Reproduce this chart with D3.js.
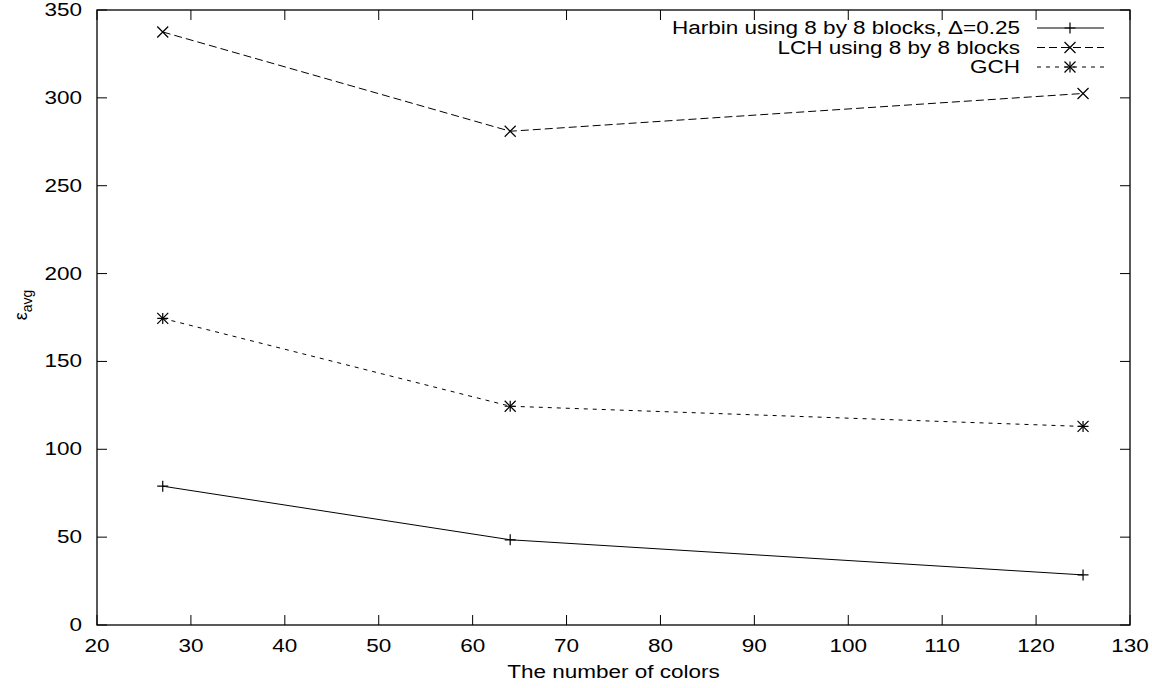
<!DOCTYPE html>
<meta charset="utf-8">
<head>
<style>
  body { margin: 0; background: #fff; }
  svg text { font-family: "Liberation Sans", Arial, sans-serif; font-size: 18px; fill: #000; }
  .frame { fill: none; stroke: #000; stroke-width: 1.3px; }
  .tick line { stroke: #000; stroke-width: 1px; }
  .series { fill: none; stroke: #000; stroke-width: 1px; }
  .mark { stroke: #000; stroke-width: 1.2px; fill: none; }
</style>
</head>
<body>
<svg width="1152" height="688"></svg>
<script src="https://d3js.org/d3.v7.min.js"></script>
<script>
var colors = [27, 64, 125];
var harbin = [79, 48.5, 28.5];
var lch = [337.5, 281, 302.5];
var gch = [174.5, 124.5, 113];
var xTicks = [20, 30, 40, 50, 60, 70, 80, 90, 100, 110, 120, 130];
var yTicks = [0, 50, 100, 150, 200, 250, 300, 350];
var names = ["Harbin using 8 by 8 blocks, \u0394=0.25", "LCH using 8 by 8 blocks", "GCH"];

var svg = d3.select("svg"),
    margin = {top: 10, right: 22, bottom: 63, left: 97},
    width = 1152 - margin.left - margin.right,
    height = 688 - margin.top - margin.bottom;

var x = d3.scaleLinear().domain([20, 130]).range([0, width]);
var y = d3.scaleLinear().domain([0, 350]).range([height, 0]);

// the original font is drawn a bit wider than normal
function label(parent, px, py, anchor, str) {
    return parent.append("g")
        .attr("transform", "translate(" + px + "," + py + ") scale(1.25,1)")
        .append("text").attr("text-anchor", anchor).text(str);
}

var g = svg.append("g").attr("transform", "translate(" + margin.left + "," + margin.top + ")");

// ticks on all four sides, pointing inward
g.append("g").attr("class", "tick").selectAll("line").data(xTicks).enter().append("line")
    .attr("x1", x).attr("x2", x).attr("y1", height).attr("y2", height - 10);
g.append("g").attr("class", "tick").selectAll("line").data(xTicks).enter().append("line")
    .attr("x1", x).attr("x2", x).attr("y1", 0).attr("y2", 10);
g.append("g").attr("class", "tick").selectAll("line").data(yTicks).enter().append("line")
    .attr("y1", y).attr("y2", y).attr("x1", 0).attr("x2", 10);
g.append("g").attr("class", "tick").selectAll("line").data(yTicks).enter().append("line")
    .attr("y1", y).attr("y2", y).attr("x1", width).attr("x2", width - 10);

xTicks.forEach(function(d) { label(g, x(d), height + 27, "middle", d); });
yTicks.forEach(function(d) { label(g, -15, y(d) + 6, "end", d); });

g.append("rect").attr("class", "frame").attr("width", width).attr("height", height);

label(svg, margin.left + width / 2, 678, "middle", "The number of colors");

var yl = svg.append("text").attr("transform", "translate(27,305) rotate(-90)")
    .attr("text-anchor", "middle");
yl.append("tspan").text("\u03b5");
yl.append("tspan").attr("dy", 5).style("font-size", "14px").text("avg");

// markers
function plus(sel, s) {
    sel.append("path").attr("class", "mark").attr("d", "M" + (-s) + ",0H" + s + "M0," + (-s) + "V" + s);
}
function cross(sel, s) {
    sel.append("path").attr("class", "mark").attr("d", "M" + (-s) + "," + (-s) + "L" + s + "," + s + "M" + (-s) + "," + s + "L" + s + "," + (-s));
}
function star(sel, s) { plus(sel, s); cross(sel, s); }

var series = [
    {vals: harbin, dash: null, mark: plus},
    {vals: lch, dash: "8,4", mark: cross},
    {vals: gch, dash: "4,5", mark: star}
];

var line = d3.line().x(function(d, i) { return x(colors[i]); }).y(function(d) { return y(d); });

series.forEach(function(s, k) {
    g.append("path").attr("class", "series").attr("d", line(s.vals))
        .attr("stroke-dasharray", s.dash);
    s.vals.forEach(function(v, i) {
        var m = g.append("g").attr("transform", "translate(" + x(colors[i]) + "," + y(v) + ")");
        s.mark(m, 5.5);
    });
    // legend
    var ly = 28 + k * 19.5;
    label(svg, 1020, ly + 6, "end", names[k]);
    svg.append("line").attr("class", "series").attr("x1", 1037).attr("x2", 1104)
        .attr("y1", ly).attr("y2", ly).attr("stroke-dasharray", s.dash);
    var lm = svg.append("g").attr("transform", "translate(1070," + ly + ")");
    s.mark(lm, 5.5);
});
</script>
</body>
